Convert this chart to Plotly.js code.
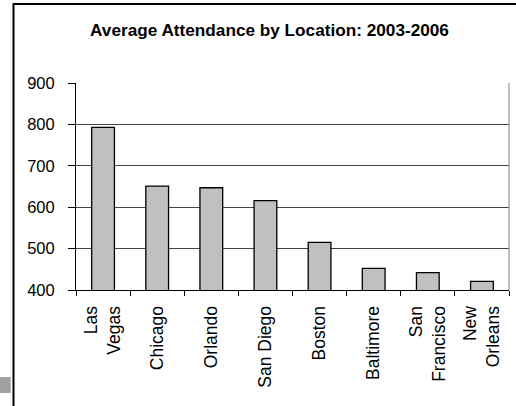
<!DOCTYPE html>
<html>
<head>
<meta charset="utf-8">
<script src="https://cdn.plot.ly/plotly-3.0.1.min.js"></script>
<style>html,body{margin:0;padding:0;background:#fff;}#chart{width:516px;height:406px;}</style>
</head>
<body>
<div id="chart"></div>
<script>
var categories = ["Las<br>Vegas", "Chicago", "Orlando", "San Diego", "Boston", "Baltimore", "San<br>Francisco", "New<br>Orleans"];
var attendance = [793, 651, 647, 616, 515, 452, 442, 421];
var yTicks = [400, 500, 600, 700, 800, 900];

var FONT = "Liberation Sans, Arial, sans-serif";

var trace = {
  type: "bar",
  x: categories,
  y: attendance,
  width: 0.42,
  marker: {color: "#c0c0c0", line: {color: "#000", width: 1.3}},
  hoverinfo: "x+y"
};

var layout = {
  width: 516, height: 406,
  margin: {l: 76, r: 7, t: 83, b: 116, pad: 0},
  paper_bgcolor: "#fff", plot_bgcolor: "#fff",
  showlegend: false,
  font: {family: FONT, color: "#000"},
  title: {
    text: "<b>Average Attendance by Location: 2003-2006</b>",
    font: {family: FONT, size: 17.2, color: "#000"},
    x: (269.5 - 76) / 433, xanchor: "center", xref: "paper",
    y: 1 - 30/406, yanchor: "middle", yref: "container"
  },
  xaxis: {
    type: "category",
    tickangle: -90,
    tickfont: {family: FONT, size: 17.5, color: "#000"},
    ticks: "outside", ticklen: 5, tickwidth: 1, tickcolor: "#000",
    tickson: "boundaries",
    ticklabelstandoff: 8,
    showline: true, linecolor: "#000", linewidth: 1,
    showgrid: false, zeroline: false,
    fixedrange: true
  },
  yaxis: {
    range: [400, 900],
    tickvals: yTicks,
    ticktext: yTicks.map(String),
    tickfont: {family: FONT, size: 16.5, color: "#000"},
    ticks: "outside", ticklen: 7, tickwidth: 1, tickcolor: "#000",
    ticklabelstandoff: 10,
    showline: true, linecolor: "#000", linewidth: 1,
    showgrid: true, gridcolor: "#444", gridwidth: 1,
    zeroline: false, fixedrange: true
  },
  shapes: [
    {type: "line", xref: "paper", yref: "paper", x0: 1, x1: 1, y0: 0, y1: 1,
     line: {color: "#808080", width: 1}},
    {type: "rect", xref: "paper", yref: "paper",
     x0: (13.5 - 76) / 433, x1: (530 - 76) / 433,
     y0: (290 - 420) / 207, y1: (290 - 4) / 207,
     line: {color: "#000", width: 2}, fillcolor: "rgba(0,0,0,0)", layer: "below"},
    {type: "rect", xref: "paper", yref: "paper",
     x0: (0 - 76) / 433, x1: (10.7 - 76) / 433,
     y0: (290 - 393) / 207, y1: (290 - 377) / 207,
     line: {width: 0}, fillcolor: "#a0a0a0", layer: "below"}
  ]
};

Plotly.newPlot("chart", [trace], layout, {displayModeBar: false, staticPlot: true});
</script>
</body>
</html>
